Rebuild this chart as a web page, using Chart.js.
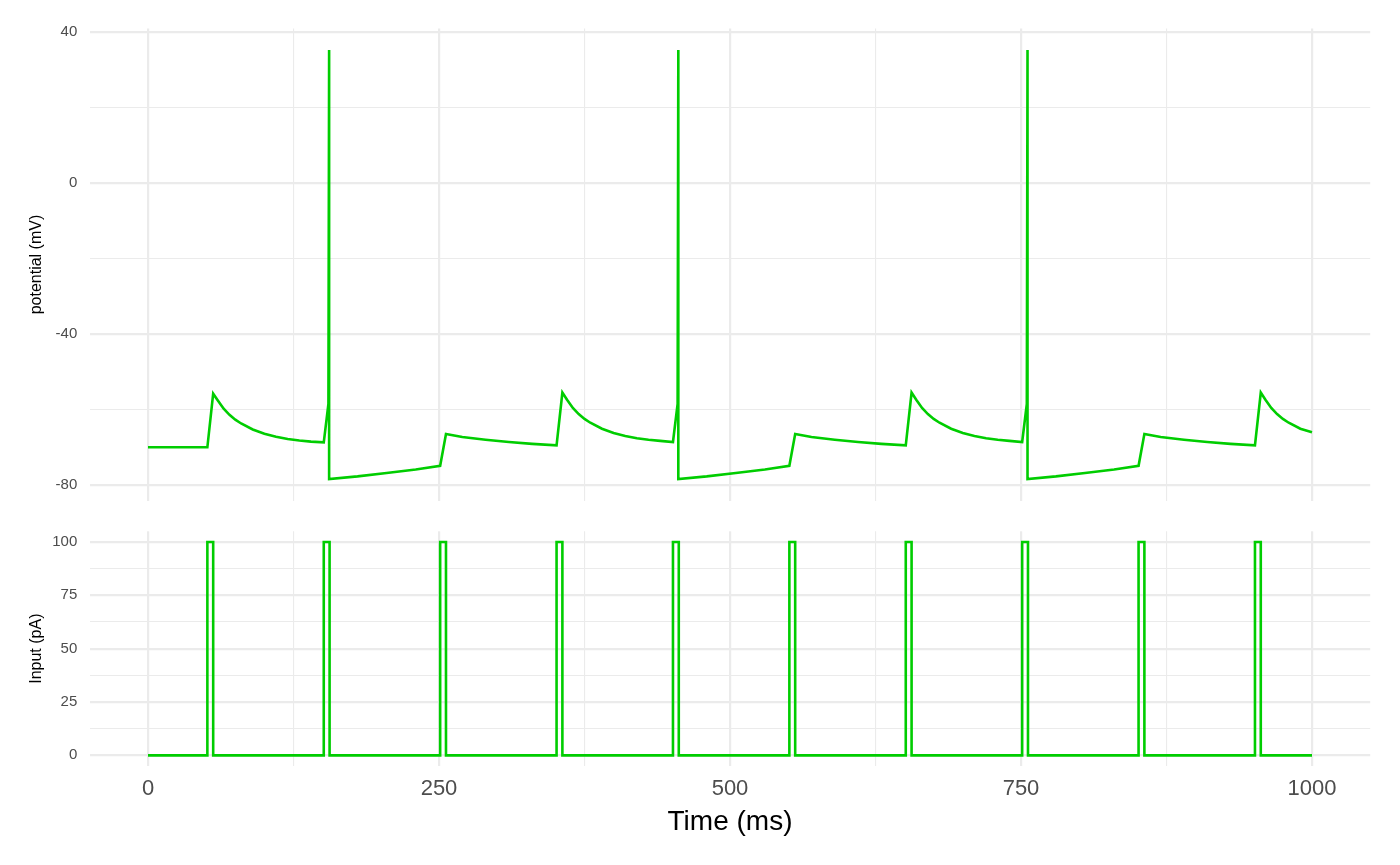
<!DOCTYPE html>
<html>
<head>
<meta charset="utf-8">
<script src="https://cdn.jsdelivr.net/npm/chart.js@4.4.1/dist/chart.umd.min.js"></script>
<style>
  html, body { margin: 0; padding: 0; background: #fff; }
  #top { position: absolute; left: 0; top: 0; width: 1400px; height: 515px; }
  #bottom { position: absolute; left: 0; top: 510px; width: 1400px; height: 355px; }
</style>
</head>
<body>
<div id="top"><canvas id="c-top"></canvas></div>
<div id="bottom"><canvas id="c-bottom"></canvas></div>
<script>
// membrane potential trace
var timeMs = [0,51,56,60,65,70,75,80,90,100,110,120,130,140,151,155,155.6,155.6,180,205,230,251,
  256,270,290,310,330,351,356,360,365,370,375,380,390,400,410,420,430,440,451,455,455.6,455.6,
  480,505,530,551,556,570,590,610,630,651,656,660,665,670,675,680,690,700,710,720,730,740,751,
  755,755.6,755.6,780,805,830,851,856,870,890,910,930,951,956,960,965,970,975,980,990,1000];
var potentialMv = [-70,-70,-55.8,-57.6,-59.8,-61.4,-62.7,-63.7,-65.3,-66.4,-67.2,-67.8,-68.2,-68.5,-68.7,
  -58.5,35.2,-78.4,-77.7,-76.8,-75.9,-74.9,
  -66.5,-67.3,-68.0,-68.6,-69.1,-69.5,-55.5,-57.4,-59.6,-61.2,-62.5,-63.5,-65.1,-66.2,-67.0,-67.6,-68.0,-68.3,-68.6,
  -58.5,35.2,-78.4,-77.7,-76.8,-75.9,-74.9,
  -66.5,-67.3,-68.0,-68.6,-69.1,-69.5,-55.5,-57.4,-59.6,-61.2,-62.5,-63.5,-65.1,-66.2,-67.0,-67.6,-68.0,-68.3,-68.6,
  -58.5,35.2,-78.4,-77.7,-76.8,-75.9,-74.9,
  -66.5,-67.3,-68.0,-68.6,-69.1,-69.5,-55.5,-57.4,-59.6,-61.2,-62.5,-63.5,-65.1,-66.0];

// input current pulses (step changes)
var inputTimes = [0,51,56,151,156,251,256,351,356,451,456,551,556,651,656,751,756,851,856,951,956,1000];
var inputPa = [0,100,0,100,0,100,0,100,0,100,0,100,0,100,0,100,0,100,0,100,0,0];

var xTicks = [0,125,250,375,500,625,750,875,1000];
var potTicks = [-80,-60,-40,-20,0,20,40];
var inputTicks = [0,12.5,25,37.5,50,62.5,75,87.5,100];

Chart.defaults.font.family = "'Liberation Sans', Arial, sans-serif";
Chart.defaults.animation = false;

var green = '#00CD00';
var gridCol = '#EBEBEB';

function pts(xs, ys) {
  return xs.map(function(x, i) { return {x: x, y: ys[i]}; });
}
function setTicks(list) {
  return function(scale) { scale.ticks = list.map(function(v) { return {value: v}; }); };
}
function gridWidth(step) {
  return function(ctx) { return ctx.tick && ctx.tick.value % step === 0 ? 2.2 : 1.1; };
}

function xAxis(showLabels) {
  var ax = {
    type: 'linear', min: -50, max: 1050,
    afterBuildTicks: setTicks(xTicks),
    border: { display: false },
    grid: { color: gridCol, lineWidth: gridWidth(250), drawTicks: false },
    ticks: {
      display: showLabels, autoSkip: false, maxRotation: 0, padding: 10,
      color: '#4D4D4D', font: { size: 22 },
      callback: function(v) { return v % 250 === 0 ? String(v) : ''; }
    },
    afterFit: function(s) { s.height = showLabels ? 73 : 0; }
  };
  if (showLabels) {
    ax.title = { display: true, text: 'Time (ms)', color: '#000', font: { size: 28 }, padding: 0 };
  }
  return ax;
}

function yAxis(min, max, list, step, label) {
  return {
    type: 'linear', min: min, max: max,
    afterBuildTicks: setTicks(list),
    border: { display: false },
    grid: { color: gridCol, lineWidth: gridWidth(step), drawTicks: false },
    ticks: {
      autoSkip: false, padding: 12.5, color: '#4D4D4D', font: { size: 15 },
      callback: function(v) { return v % step === 0 ? String(v) : ''; }
    },
    title: { display: true, text: label, color: '#000', font: { size: 16 }, padding: 0 },
    afterFit: function(s) {
      s.width = 63;
      // panel edges are set by layout padding, not by the tick labels
      s.paddingTop = 0;
      s.paddingBottom = 0;
    }
  };
}

var common = {
  responsive: true,
  maintainAspectRatio: false,
  plugins: { legend: { display: false }, tooltip: { enabled: false } },
  elements: { point: { radius: 0 }, line: { tension: 0 } }
};

new Chart(document.getElementById('c-top'), {
  type: 'line',
  data: { datasets: [{ data: pts(timeMs, potentialMv), borderColor: green, borderWidth: 2.6 }] },
  options: Object.assign({}, common, {
    layout: { padding: { left: 26.8, right: 29.8, top: 28.6, bottom: 14.5 } },
    scales: { x: xAxis(false), y: yAxis(-84.1, 40.9, potTicks, 40, 'potential (mV)') }
  })
});

new Chart(document.getElementById('c-bottom'), {
  type: 'line',
  data: { datasets: [{ data: pts(inputTimes, inputPa), borderColor: green, borderWidth: 2.6, stepped: 'before' }] },
  options: Object.assign({}, common, {
    layout: { padding: { left: 26.8, right: 29.8, top: 21.3, bottom: 26 } },
    scales: { x: xAxis(true), y: yAxis(-5, 105, inputTicks, 25, 'Input (pA)') }
  })
});
</script>
</body>
</html>
